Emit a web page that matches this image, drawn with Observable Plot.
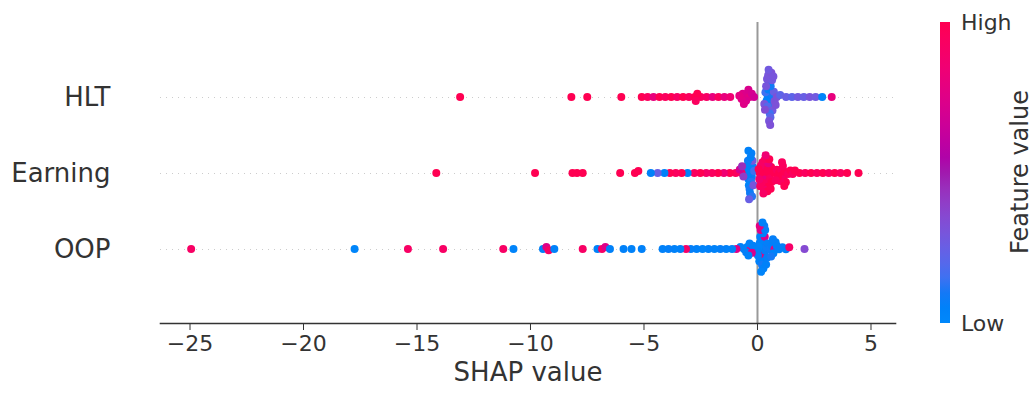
<!DOCTYPE html>
<html>
<head>
<meta charset="utf-8">
<script src="https://cdn.jsdelivr.net/npm/d3@7"></script>
<script src="https://cdn.jsdelivr.net/npm/@observablehq/plot@0.6"></script>
<style>
  html, body { margin: 0; padding: 0; background: #fff; }
  #wrap { position: relative; width: 1033px; height: 394px; font-family: "DejaVu Sans", sans-serif; color: #333; }
  #bar { position: absolute; left: 940px; top: 22px; width: 10px; height: 301px; }
  .cb { position: absolute; font-size: 22px; color: #333; line-height: 1; }
  #flabel { position: absolute; left: 1020px; top: 172px; font-size: 24px; color: #333; transform: translate(-50%, -50%) rotate(-90deg); white-space: nowrap; }
</style>
</head>
<body>
<div id="wrap">
  <div id="chart"></div>
  <div id="bar"></div>
  <div class="cb" style="left:961px; top:12px;">High</div>
  <div class="cb" style="left:961px; top:313px;">Low</div>
  <div id="flabel">Feature value</div>
</div>
<script>
const features = ["HLT", "Earning", "OOP"];
const xTicks = [-25, -20, -15, -10, -5, 0, 5];

// HLT: SHAP values and normalised feature values (0 = low, 1 = high)
const hltShap = [
  0.45, 0.52, 0.60, 0.40, 0.68, 0.55, 0.35, 0.48, 0.62, 0.72, 0.30, 0.58, 0.44, 0.66, 0.50, 0.38, 0.75, 0.54, 0.42, 0.64, 0.80, 0.57, 0.47, 0.61, 0.33, 0.70, 0.85, 0.51, 0.56, 0.49,
  -0.55, -0.45, -0.65, -0.35, -0.50, -0.70, -0.40, -0.60, -0.25, -0.80, -0.15,
  -5.10, -4.84, -4.58, -4.32, -4.06, -3.80, -3.54, -3.28, -3.02, -2.76, -2.50, -2.24, -1.98, -1.72, -1.46, -1.20, -2.65, -2.72,
  -13.1, -8.2, -7.5, -6.0,
  1.00, 1.26, 1.52, 1.78, 2.04, 2.30, 2.56, 2.85, 3.27
];
const hltFeat = [
  0.02, 0.05, 0.08, 0.05, 0.10, 0.03, 0.15, 0.06, 0.12, 0.25, 0.30, 0.10, 0.20, 0.28, 0.05, 0.30, 0.32, 0.15, 0.30, 0.28, 0.32, 0.22, 0.30, 0.32, 0.34, 0.30, 0.32, 0.30, 0.32, 0.28,
  0.72, 0.75, 0.74, 0.78, 0.73, 0.76, 0.72, 0.75, 0.70, 0.78, 0.68,
  1.00, 0.95, 0.80, 1.00, 0.95, 1.00, 0.92, 1.00, 0.95, 1.00, 0.95, 0.92, 0.80, 0.95, 0.80, 0.85, 1.00, 0.95,
  1.00, 1.00, 1.00, 1.00,
  0.22, 0.25, 0.22, 0.28, 0.25, 0.30, 0.28, 0.02, 0.80
];

// Earning
const earnShap = [
  -0.30, -0.35, -0.25, -0.40, -0.20, -0.32, -0.45, -0.28, -0.38, -0.15, -0.50, -0.22, -0.42, -0.30, -0.35, -0.27, -0.48, -0.18, -0.33, -0.40, -0.24, -0.37,
  0.30, 0.25, 0.40, 0.20, 0.35, 0.50, 0.15, 0.45, 0.30, 0.55, 0.10, 0.38, 0.60, 0.22, 0.48, 0.05, 0.33, 0.42, 0.28, 0.52, 0.18, 0.36, 0.62, 0.12, 0.44, 0.26, 0.58, 0.08,
  0.75, 0.85, 0.95, 1.05, 1.10, 1.15, 1.20, 1.12, 1.25, 1.35, 1.45, 1.55, 1.65, 1.00, 0.90, 1.08, 1.18, 0.80,
  1.85, 2.10, 2.36, 2.62, 2.88, 3.14, 3.40, 3.66, 3.95, 4.45,
  -0.70, -0.96, -1.22, -1.48, -1.74, -2.00, -2.26, -2.52, -2.78, -3.08, -3.34, -3.60, -3.86, -4.10, -4.40, -4.70, -0.62, -0.78, -0.68,
  -14.15, -9.8, -8.15, -7.95, -7.7, -6.05, -5.4, -5.25
];
const earnFeat = [
  0.05, 0.02, 0.08, 0.05, 0.10, 0.04, 0.06, 0.12, 0.03, 0.15, 0.05, 0.30, 0.08, 0.05, 0.10, 0.06, 0.04, 0.30, 0.08, 0.05, 0.12, 0.25,
  0.95, 1.00, 0.92, 1.00, 0.95, 1.00, 0.90, 1.00, 0.82, 0.95, 1.00, 0.95, 1.00, 0.92, 0.80, 1.00, 0.95, 1.00, 0.90, 1.00, 0.95, 0.85, 1.00, 0.95, 1.00, 0.92, 1.00, 0.88,
  1.00, 0.95, 1.00, 0.95, 1.00, 0.92, 1.00, 0.95, 1.00, 0.95, 1.00, 0.95, 1.00, 0.95, 1.00, 0.95, 1.00, 0.95,
  1.00, 0.95, 1.00, 0.95, 1.00, 0.95, 1.00, 0.95, 1.00, 1.00,
  0.90, 0.95, 1.00, 0.85, 1.00, 0.95, 0.90, 1.00, 0.95, 0.05, 1.00, 0.95, 1.00, 0.05, 0.25, 0.05, 0.40, 0.70, 0.45,
  1.00, 1.00, 1.00, 1.00, 1.00, 1.00, 1.00, 1.00
];

// OOP
const oopShap = [
  0.20, 0.25, 0.15, 0.30, 0.10, 0.22, 0.35, 0.18, 0.28, 0.05, 0.40, 0.12, 0.32, 0.00, 0.24, 0.45, 0.08, 0.20, 0.26, 0.14, 0.34, 0.02, 0.38, 0.16, 0.30, 0.10, 0.22, 0.42,
  -0.60, -0.45, -0.30, -0.20, 0.55, 0.65, 0.75, 0.85, -0.50, 0.70, -0.35, 0.60, -0.25, 0.80, -0.40, 0.68,
  0.95, 1.10, 1.25, 1.40, 2.07,
  -0.75, -0.93, -1.12, -1.38, -1.64, -1.90, -2.16, -2.42, -2.68, -2.94, -3.15, -3.40, -3.66, -3.92, -4.18,
  -24.95, -17.75, -15.4, -13.85, -11.2, -10.75, -9.45, -9.3, -9.2, -8.95, -7.7, -7.05, -6.85, -6.7, -6.5, -5.9, -5.55, -5.1
];
const oopFeat = [
  0.05, 0.03, 0.08, 0.75, 0.05, 0.04, 0.06, 0.80, 0.05, 0.03, 0.08, 0.05, 0.72, 0.05, 0.04, 0.06, 0.05, 0.10, 0.05, 0.75, 0.04, 0.06, 0.05, 0.03, 0.08, 0.78, 0.05, 0.06,
  0.05, 0.04, 0.75, 0.05, 0.08, 0.05, 0.78, 0.05, 0.06, 0.04, 0.05, 0.10, 0.72, 0.05, 0.04, 0.06,
  0.05, 0.06, 0.05, 0.90, 0.35,
  0.05, 0.75, 0.04, 0.05, 0.06, 0.04, 0.05, 0.03, 0.05, 0.06, 0.90, 0.05, 0.04, 0.06, 0.05,
  0.92, 0.02, 0.92, 0.92, 0.92, 0.03, 0.05, 0.75, 0.92, 0.05, 0.92, 0.05, 0.92, 0.75, 0.05, 0.05, 0.04, 0.05
];

const series = { HLT: [hltShap, hltFeat], Earning: [earnShap, earnFeat], OOP: [oopShap, oopFeat] };
const rows = features.map(f => series[f][0].map((v, i) => ({ feature: f, shap: v, feat: series[f][1][i] })));

// SHAP red_blue colormap: LCh interpolation, lightness dips in the middle
function shapColor(t) {
  const l = t < 0.5 ? 54 + (40 - 54) * (t / 0.5) : 40 + (54 - 40) * ((t - 0.5) / 0.5);
  const c = 70 + 20 * t;
  const h = (4.6588 + (0.35470565 + 2 * Math.PI - 4.6588) * t) * 180 / Math.PI;
  return d3.hcl(h, c, l).formatHex();
}
const cDomain = d3.range(21).map(i => i / 20);
const cRange = cDomain.map(shapColor);

const W = 1033, H = 394, mL = 160, mR = 138, mT = 22, mB = 71;
const yPad = 0.98;
const yPos = d3.scalePoint(features, [mT, H - mB]).padding(yPad);
const mid = (mT + H - mB) / 2;

const chart = Plot.plot({
  width: W, height: H,
  marginLeft: mL, marginRight: mR, marginTop: mT, marginBottom: mB,
  style: { fontFamily: "DejaVu Sans, sans-serif", color: "#333", background: "#fff" },
  x: { domain: [-26.3, 6.08] },
  y: { type: "point", domain: features, padding: yPad },
  color: { type: "linear", domain: cDomain, range: cRange },
  marks: [
    Plot.ruleY(features, { y: d => d, stroke: "#cccccc", strokeWidth: 1, strokeDasharray: "1 5" }),
    Plot.ruleX([0], { stroke: "#999999", strokeWidth: 2 }),
    ...features.map((f, i) => Plot.dot(rows[i], Plot.dodgeY({ anchor: "middle", padding: 0, r: 2.0 }, {
      x: "shap", r: 4, fill: "feat", stroke: null, dy: yPos(f) - mid
    }))),
    Plot.frame({ anchor: "bottom", stroke: "#333", strokeWidth: 1.6 }),
    Plot.axisX({ ticks: xTicks, tickSize: 7, tickPadding: 5, fontSize: 22, label: null, stroke: "#333" }),
    Plot.axisY({ tickSize: 0, tickPadding: 50, fontSize: 26, label: null }),
    Plot.text(["SHAP value"], { frameAnchor: "bottom", dy: 57, fontSize: 26, fill: "#333" })
  ]
});
document.getElementById("chart").appendChild(chart);

const stops = cDomain.map((t, i) => `${cRange[i]} ${(t * 100).toFixed(0)}%`).join(", ");
document.getElementById("bar").style.background = `linear-gradient(to top, ${stops})`;
</script>
</body>
</html>
